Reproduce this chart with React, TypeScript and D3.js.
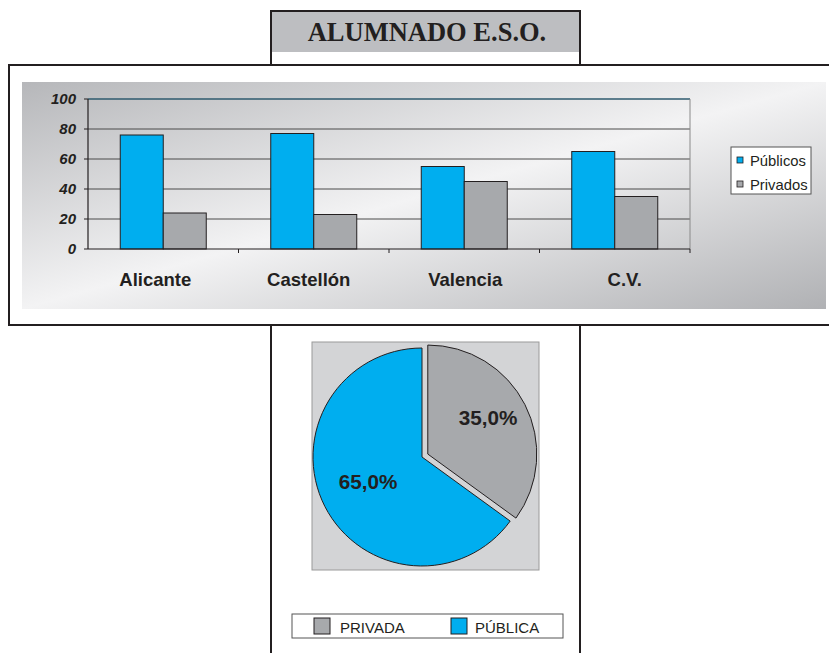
import React from "react";
import * as d3 from "d3";

const categories = ["Alicante", "Castellón", "Valencia", "C.V."];
const series = ["Públicos", "Privados"];
const publicos = [76, 77, 55, 65];
const privados = [24, 23, 45, 35];
const yTicks = [0, 20, 40, 60, 80, 100];
const pieLabels = ["PRIVADA", "PÚBLICA"];
const pieValues = [35, 65];
const pieTexts = ["35,0%", "65,0%"];

const BLUE = "#00aeef";
const GRAY = "#a7a9ac";
const DARK = "#231f20";

export default function App() {
  const x0 = d3.scaleBand<string>().domain(categories).range([88, 690]).paddingInner(0).paddingOuter(0);
  const x1 = d3.scaleBand<string>().domain(series).range([0, x0.bandwidth()]).paddingInner(0).paddingOuter(0.75);
  const y = d3.scaleLinear().domain([0, 100]).range([249, 99]);
  const colors = [BLUE, GRAY];
  const values = [publicos, privados];

  const pie = d3.pie<number>().sort(null).startAngle(0).endAngle(2 * Math.PI)(pieValues);
  const R = 109;
  const arc = d3.arc<d3.PieArcDatum<number>>().innerRadius(0).outerRadius(R);
  const pieColors = [GRAY, BLUE];
  const cx = 422, cy = 457;
  const explode = [6.5, 0];
  const labelShift = [-8, -5, 1, 10];

  return (
    <svg width={829} height={653} style={{ position: "absolute", left: 0, top: 0 }} fontFamily="'Liberation Sans', Arial, sans-serif">
      <defs>
        <linearGradient id="bg" x1="0" y1="0" x2="1" y2="1">
          <stop offset="0" stopColor="#b6b7ba" />
          <stop offset="0.5" stopColor="#f3f3f4" />
          <stop offset="1" stopColor="#b0b1b4" />
        </linearGradient>
      </defs>
      <rect x={0} y={0} width={829} height={653} fill="#fff" />
      {/* title box */}
      <rect x={271} y={12} width={309} height={40} fill="#bdbec1" />
      <path d={`M271,64 V11 H580 V64`} fill="none" stroke={DARK} strokeWidth={2} />
      <text x={427} y={41} textAnchor="middle" fontFamily="'Liberation Serif', 'Times New Roman', serif" fontWeight="bold" fontSize={26.5} fill={DARK}>ALUMNADO E.S.O.</text>
      {/* column lines below */}
      <line x1={271} y1={325} x2={271} y2={653} stroke={DARK} strokeWidth={2} />
      <line x1={580} y1={325} x2={580} y2={653} stroke={DARK} strokeWidth={2} />
      {/* chart box */}
      <path d="M830,65 H9 V325 H830" fill="none" stroke={DARK} strokeWidth={2} />
      <rect x={22} y={82} width={804} height={227} fill="url(#bg)" />
      {/* gridlines */}
      {yTicks.filter(t => t > 0 && t < 100).map(t => (
        <line key={t} x1={88} x2={690} y1={y(t)} y2={y(t)} stroke="#4a4a4a" strokeWidth={1} />
      ))}
      <line x1={88} x2={690} y1={y(100)} y2={y(100)} stroke="#2e5a6e" strokeWidth={1.3} />
      <line x1={690} x2={690} y1={y(100)} y2={y(0)} stroke="#8a8a8a" strokeWidth={1} />
      {/* bars */}
      {categories.map((c, i) => (
        <g key={c}>
          {series.map((s, j) => (
            <rect key={s} x={(x0(c) as number) + (x1(s) as number)} y={y(values[j][i])} width={x1.bandwidth()} height={y(0) - y(values[j][i])} fill={colors[j]} stroke={DARK} strokeWidth={1} />
          ))}
        </g>
      ))}
      {/* axes */}
      <line x1={88} x2={88} y1={y(100)} y2={y(0)} stroke={DARK} strokeWidth={1.2} />
      <line x1={88} x2={690} y1={y(0)} y2={y(0)} stroke={DARK} strokeWidth={1.2} />
      {yTicks.map(t => (
        <g key={t}>
          <line x1={84} x2={88} y1={y(t)} y2={y(t)} stroke={DARK} />
          <text x={76} y={y(t) + 5} textAnchor="end" fontStyle="italic" fontWeight="bold" fontSize={15} fill={DARK}>{t}</text>
        </g>
      ))}
      {categories.map((c, i) => (
        <g key={c}>
          <line x1={(x0(c) as number) + x0.bandwidth()} x2={(x0(c) as number) + x0.bandwidth()} y1={y(0)} y2={y(0) + 4} stroke={DARK} />
          <text x={(x0(c) as number) + x0.bandwidth() / 2 + labelShift[i]} y={286} textAnchor="middle" fontWeight="bold" fontSize={18.5} fill={DARK}>{c}</text>
        </g>
      ))}
      {/* bar legend */}
      <rect x={731} y={147} width={80} height={47} fill="#fff" stroke="#555" strokeWidth={1} />
      {series.map((s, j) => (
        <g key={s}>
          <rect x={737} y={157 + j * 24} width={6} height={6} fill={colors[j]} stroke={DARK} strokeWidth={0.8} />
          <text x={750} y={166 + j * 24} fontSize={14.8} fill={DARK}>{s}</text>
        </g>
      ))}
      {/* pie */}
      <rect x={312} y={342} width={227} height={228} fill="#d3d4d6" stroke="#9a9a9a" strokeWidth={1} />
      {pie.map((d, i) => {
        const mid = (d.startAngle + d.endAngle) / 2;
        const dx = Math.sin(mid) * explode[i];
        const dy = -Math.cos(mid) * explode[i];
        return (
          <path key={i} d={arc(d) as string} transform={`translate(${cx + dx},${cy + dy})`} fill={pieColors[i]} stroke={DARK} strokeWidth={1} />
        );
      })}
      <text x={488} y={425} textAnchor="middle" fontWeight="bold" fontSize={20.7} fill={DARK}>{pieTexts[0]}</text>
      <text x={368} y={489} textAnchor="middle" fontWeight="bold" fontSize={20.7} fill={DARK}>{pieTexts[1]}</text>
      {/* pie legend */}
      <rect x={292} y={614} width={271} height={24} fill="#fff" stroke="#555" strokeWidth={1} />
      {pieLabels.map((l, i) => (
        <g key={l}>
          <rect x={314 + i * 137} y={618} width={16} height={16} fill={pieColors[i]} stroke={DARK} strokeWidth={1} />
          <text x={340 + i * 135} y={633} fontSize={15} fill={DARK}>{l}</text>
        </g>
      ))}
    </svg>
  );
}
